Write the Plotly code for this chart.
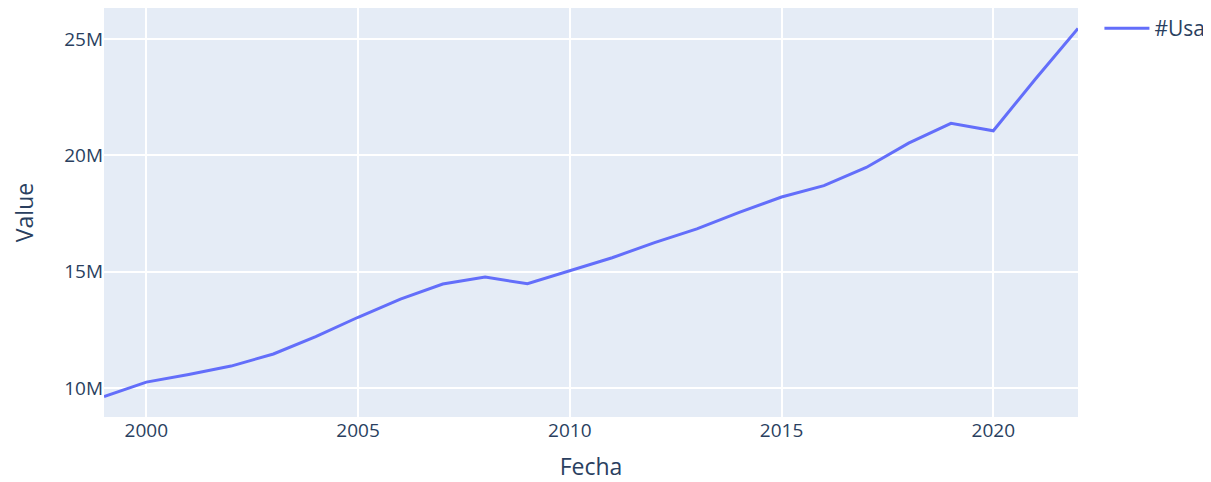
import plotly.graph_objects as go

# Year and value
years = [1999, 2000, 2001, 2002, 2003, 2004, 2005, 2006, 2007, 2008, 2009, 2010,
         2011, 2012, 2013, 2014, 2015, 2016, 2017, 2018, 2019, 2020, 2021, 2022]
values = [9.63e6, 10.25e6, 10.58e6, 10.94e6, 11.46e6, 12.21e6, 13.04e6, 13.82e6,
          14.47e6, 14.77e6, 14.48e6, 15.05e6, 15.6e6, 16.25e6, 16.84e6, 17.55e6,
          18.21e6, 18.7e6, 19.48e6, 20.53e6, 21.38e6, 21.06e6, 23.3e6, 25.46e6]

fig = go.Figure()
fig.add_trace(go.Scatter(x=years, y=values, mode='lines', name='#Usa',
                         line=dict(color='#636efa', width=3)))

# page body adds an 8px offset, so the figure is sized to fit the window
fig.update_layout(
    width=1203, height=474,
    template='plotly',
    font=dict(family='Open Sans, Verdana, Arial, sans-serif', size=19, color='#2a3f5f'),
    margin=dict(l=96, r=133, t=0, b=65),
    showlegend=True,
    legend=dict(x=1.022, y=1, itemwidth=45, font=dict(size=21)),
)
fig.update_xaxes(title=dict(text='Fecha', font=dict(size=23), standoff=18),
                 gridwidth=2, tickfont=dict(size=19))
fig.update_yaxes(title=dict(text='Value', font=dict(size=23), standoff=30),
                 gridwidth=2, tickfont=dict(size=19),
                 tickvals=[10e6, 15e6, 20e6, 25e6],
                 ticktext=['10M', '15M', '20M', '25M'])

fig.write_html("out.html")
